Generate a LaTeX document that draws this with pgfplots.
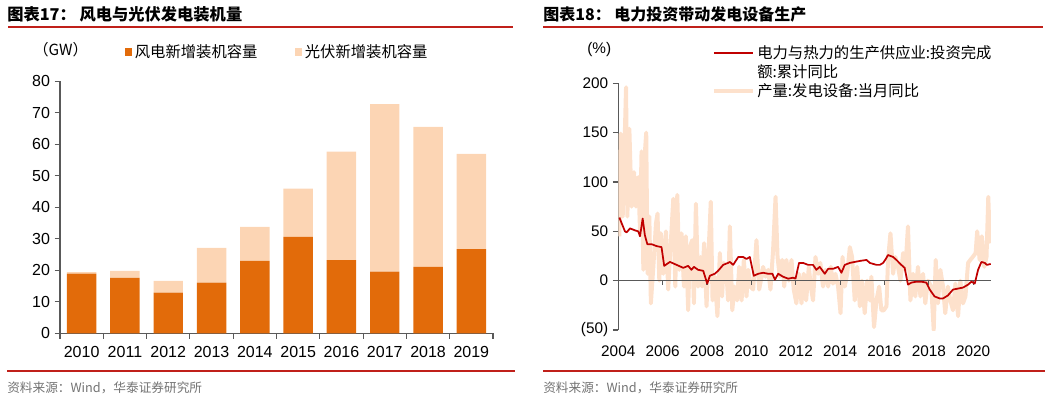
\documentclass[border=0pt]{standalone}
\usepackage{fontspec}
\setmainfont{Liberation Sans}
\newfontfamily\cjk{Noto Sans CJK SC}
\usepackage{pgfplots}
\pgfplotsset{compat=1.18}
\definecolor{wind}{HTML}{E26B0A}
\definecolor{solar}{HTML}{FCD5B4}
\definecolor{pv}{HTML}{FDE1CC}
\definecolor{inv}{HTML}{C00000}
\definecolor{rulered}{HTML}{C0201A}
\definecolor{axgray}{HTML}{595959}
\begin{document}
\begin{tikzpicture}[x=0.75pt,y=-0.75pt]
\path[use as bounding box] (0,0) rectangle (1054,399);
% titles and rules
\node[anchor=west, inner sep=0, font=\cjk\bfseries\fontsize{12.2}{14}\selectfont] at (7,14) {图表17： 风电与光伏发电装机量};
\node[anchor=west, inner sep=0, font=\cjk\bfseries\fontsize{12}{14}\selectfont] at (543,14) {图表18： 电力投资带动发电设备生产};
\draw[rulered, line width=0.9pt] (8,27) -- (513,27);
\draw[rulered, line width=0.9pt] (543,27) -- (1043,27);
\draw[rulered, line width=0.9pt] (7,371) -- (515,371);
\draw[rulered, line width=0.9pt] (543,371) -- (1045,371);
\node[anchor=west, inner sep=0, font=\cjk\fontsize{9.5}{11}\selectfont, text=black!55] at (7,388) {资料来源：Wind，华泰证券研究所};
\node[anchor=west, inner sep=0, font=\cjk\fontsize{9.5}{11}\selectfont, text=black!55] at (543,388) {资料来源：Wind，华泰证券研究所};
\node[anchor=west, inner sep=0, font=\cjk\fontsize{11.5}{13}\selectfont] at (33,50) {（GW）};
\node[anchor=west, inner sep=0, font=\fontsize{11.5}{13}\selectfont] at (587,50) {(\%)};

% left chart
\begin{axis}[
  at={(45pt,-250pt)}, anchor=south west,
  scale only axis, width=324.75pt, height=189.2pt,
  ybar stacked, bar width=0.68,
  xmin=-0.5, xmax=9.5, ymin=0, ymax=80,
  axis lines*=left,
  axis line style={axgray, line width=0.8pt},
  tick style={axgray, line width=0.8pt},
  tick align=outside,
  major tick length=4pt,
  /pgf/number format/assume math mode=true,
  ytick={0,10,...,80},
  xtick={-0.5,0.5,1.5,2.5,3.5,4.5,5.5,6.5,7.5,8.5,9.5},
  xticklabels={},
  extra x ticks={0,1,2,3,4,5,6,7,8,9},
  extra x tick labels={2010,2011,2012,2013,2014,2015,2016,2017,2018,2019},
  extra x tick style={major tick length=0pt},
  ticklabel style={font=\fontsize{12}{14}\selectfont, text=black},
  xticklabel style={yshift=-6pt},
  legend style={at={(0.14,1.115)}, anchor=west, draw=none, fill=none,
    legend columns=2, font=\cjk\fontsize{11.5}{13}\selectfont,
    /tikz/every even column/.append style={column sep=26pt}},
  legend image code/.code={\fill[#1] (0pt,-2.75pt) rectangle (5.5pt,2.75pt);},
]
\addplot[fill=wind, draw=none] coordinates {(0,18.9) (1,17.6) (2,12.9) (3,16.1) (4,23.0) (5,30.6) (6,23.2) (7,19.6) (8,21.1) (9,26.7)};
\addlegendentry{风电新增装机容量}
\addplot[fill=solar, draw=none] coordinates {(0,0.5) (1,2.2) (2,3.7) (3,11.0) (4,10.8) (5,15.3) (6,34.4) (7,53.1) (8,44.4) (9,30.2)};
\addlegendentry{光伏新增装机容量}
\end{axis}

% right chart
\begin{axis}[
  at={(463.7pt,-247.5pt)}, anchor=south west,
  scale only axis, width=279.5pt, height=185pt,
  xmin=2004, xmax=2020.8, ymin=-50, ymax=200,
  axis y line*=left, axis x line*=bottom,
  x axis line style={draw=none},
  y axis line style={axgray, line width=0.8pt},
  ytick style={axgray, line width=0.8pt},
  xtick style={draw=none},
  tick align=outside, major tick length=4pt,
  /pgf/number format/assume math mode=true,
  xtick={2004,2006,2008,2010,2012,2014,2016,2018,2020},
  xticklabels={2004,2006,2008,2010,2012,2014,2016,2018,2020},
  ytick={-50,0,50,100,150,200},
  yticklabels={(50),0,50,100,150,200},
  ticklabel style={font=\fontsize{11.5}{13}\selectfont, text=black},
  xticklabel style={yshift=-4pt},
  legend style={at={(0.25,1.165)}, anchor=north west, draw=none, fill=none,
    font=\cjk\fontsize{11.5}{13}\selectfont, inner sep=0pt, row sep=-1pt},
  legend cell align=left,
  legend image code/.code={\draw[#1] (0pt,0pt) -- (29pt,0pt);},
]
\addlegendimage{inv, line width=1.6pt}
\addlegendentry{电力与热力的生产供应业:投资完成}
\addlegendimage{empty legend}
\addlegendentry{额:累计同比}
\addlegendimage{pv, line width=3.2pt}
\addlegendentry{产量:发电设备:当月同比}

\addplot[pv, line width=3pt, line join=round, forget plot] coordinates {
(2004.05,45) (2004.11,149) (2004.20,65) (2004.35,196) (2004.41,65) (2004.50,154) (2004.60,75) (2004.71,110) (2004.80,75) (2004.90,105)
(2004.98,51) (2005.05,131) (2005.13,11) (2005.20,130) (2005.26,150) (2005.32,7) (2005.40,65) (2005.47,-23) (2005.58,14) (2005.70,58)
(2005.77,68) (2005.85,0) (2005.92,48) (2006.03,7) (2006.15,50) (2006.25,-9) (2006.33,24) (2006.40,51) (2006.48,83) (2006.57,-6)
(2006.66,87) (2006.75,11) (2006.85,48) (2006.96,-6) (2007.05,45) (2007.15,-30) (2007.23,34) (2007.33,41) (2007.41,-23) (2007.50,78)
(2007.60,-6) (2007.71,24) (2007.78,-6) (2007.87,38) (2007.98,-26) (2008.07,28) (2008.17,80) (2008.25,-20) (2008.35,4) (2008.47,-36)
(2008.58,28) (2008.68,-16) (2008.76,18) (2008.88,7) (2008.95,-20) (2009.03,55) (2009.14,-30) (2009.24,-6) (2009.36,-20) (2009.45,14)
(2009.56,-20) (2009.66,21) (2009.78,-16) (2009.86,11) (2009.96,-6) (2010.08,-9) (2010.23,41) (2010.35,-9) (2010.46,4) (2010.53,14)
(2010.64,4) (2010.76,11) (2010.86,-9) (2010.98,31) (2011.09,85) (2011.18,24) (2011.28,4) (2011.39,21) (2011.48,-6) (2011.58,21)
(2011.69,0) (2011.81,21) (2011.91,-9) (2012.03,-23) (2012.14,7) (2012.26,-23) (2012.36,7) (2012.47,-20) (2012.59,14) (2012.68,-6)
(2012.78,-20) (2012.89,24) (2013.01,7) (2013.11,18) (2013.23,-6) (2013.34,11) (2013.46,-6) (2013.58,14) (2013.68,-3) (2013.79,7)
(2013.91,-6) (2014.02,-33) (2014.11,24) (2014.21,-6) (2014.32,7) (2014.44,34) (2014.54,24) (2014.66,-20) (2014.77,14) (2014.89,-26)
(2014.99,0) (2015.11,-33) (2015.22,0) (2015.34,-20) (2015.41,4) (2015.53,-47) (2015.64,-20) (2015.76,-6) (2015.86,-30) (2015.97,-30)
(2016.09,-26) (2016.16,21) (2016.27,48) (2016.39,7) (2016.49,24) (2016.61,14) (2016.72,0) (2016.84,28) (2016.94,11) (2017.06,55)
(2017.17,-20) (2017.29,7) (2017.39,-16) (2017.51,14) (2017.62,-16) (2017.74,7) (2017.84,-23) (2017.96,0) (2018.11,-6) (2018.22,-50)
(2018.31,21) (2018.41,-23) (2018.52,11) (2018.64,-6) (2018.74,-33) (2018.86,-6) (2018.97,-20) (2019.09,-30) (2019.20,-3) (2019.32,-36)
(2019.42,0) (2019.54,-23) (2019.65,-16) (2019.77,18) (2019.87,21) (2019.98,24) (2020.11,28) (2020.18,50) (2020.29,21) (2020.39,45)
(2020.50,14) (2020.60,24) (2020.68,85) (2020.75,41) (2020.79,38)
};
\draw[axgray, line width=1pt] (axis cs:2004,0) -- (axis cs:2020.8,0);
\pgfplotsinvokeforeach{2006,2008,2010,2012,2014,2016,2018,2020}{
  \draw[axgray, line width=0.8pt] (axis cs:#1,0) -- ++(0pt,-3pt);
}
\addplot[inv, line width=1.3pt, line join=round, forget plot] coordinates {
(2004.05,64) (2004.30,50) (2004.38,49) (2004.53,53) (2004.75,51) (2004.90,50) (2004.98,45) (2005.10,63) (2005.20,46) (2005.31,37)
(2005.50,37) (2005.73,35) (2005.95,34) (2006.07,15) (2006.33,19) (2006.63,16) (2006.93,13) (2007.15,15) (2007.30,11) (2007.41,14)
(2007.60,11) (2007.83,10) (2008.01,-3) (2008.13,5) (2008.35,7) (2008.50,10) (2008.73,16) (2008.95,18) (2009.03,19) (2009.18,16)
(2009.41,24) (2009.63,24) (2009.78,22) (2009.93,24) (2010.11,5) (2010.31,7) (2010.53,8) (2010.76,7) (2010.95,7) (2011.06,1)
(2011.21,7) (2011.43,4) (2011.66,2) (2011.88,3) (2011.99,2) (2012.15,18) (2012.33,18) (2012.56,16) (2012.78,16) (2012.93,11)
(2013.08,14) (2013.31,7) (2013.46,12) (2013.68,12) (2013.91,14) (2014.06,8) (2014.21,16) (2014.44,18) (2014.66,19) (2014.89,20)
(2015.19,21) (2015.34,18) (2015.64,16) (2015.79,16) (2015.94,18) (2016.06,22) (2016.16,26) (2016.39,24) (2016.54,21) (2016.76,16)
(2016.91,13) (2017.06,-4) (2017.21,-2) (2017.44,-1) (2017.66,-1) (2017.89,-2) (2018.04,-9) (2018.26,-16) (2018.49,-18) (2018.64,-18)
(2018.86,-15) (2019.09,-9) (2019.32,-8) (2019.54,-7) (2019.77,-4) (2019.92,-1) (2020.07,-3) (2020.22,11) (2020.37,19) (2020.52,18)
(2020.62,16) (2020.79,17)
};
\end{axis}
\end{tikzpicture}
\end{document}
